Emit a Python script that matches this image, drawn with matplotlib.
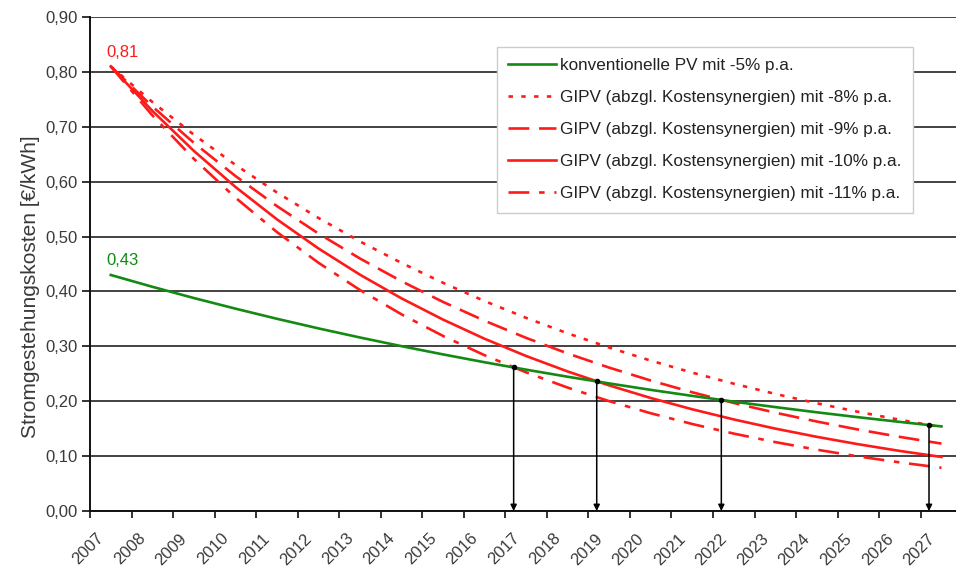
import matplotlib
matplotlib.use("Agg")
import matplotlib.pyplot as plt
from matplotlib.ticker import FixedLocator, FuncFormatter

plt.rcParams['font.family'] = ['Liberation Sans', 'DejaVu Sans']
plt.rcParams['lines.scale_dashes'] = False

years = list(range(2007, 2028))
year_labels = [str(y) for y in years]

pv_conv_5 = [0.430, 0.4085, 0.388, 0.3687, 0.3502, 0.3327, 0.3161, 0.3003, 0.2853, 0.2710,
             0.2575, 0.2446, 0.2324, 0.2207, 0.2097, 0.1992, 0.1893, 0.1798, 0.1708, 0.1623, 0.1541]
gipv_8 = [0.810, 0.7452, 0.6856, 0.6307, 0.5803, 0.5339, 0.4911, 0.4519, 0.4157, 0.3825,
          0.3519, 0.3237, 0.2978, 0.2740, 0.2521, 0.2319, 0.2133, 0.1963, 0.1806, 0.1661, 0.1528]
gipv_9 = [0.810, 0.7371, 0.6708, 0.6104, 0.5555, 0.5055, 0.4600, 0.4186, 0.3809, 0.3466,
          0.3154, 0.2870, 0.2612, 0.2377, 0.2163, 0.1968, 0.1791, 0.1630, 0.1483, 0.1350, 0.1228]
gipv_10 = [0.810, 0.729, 0.6561, 0.5905, 0.5314, 0.4783, 0.4305, 0.3874, 0.3487, 0.3138,
           0.2824, 0.2542, 0.2288, 0.2059, 0.1853, 0.1668, 0.1501, 0.1351, 0.1216, 0.1094, 0.0985]
gipv_11 = [0.810, 0.7209, 0.6416, 0.5710, 0.5082, 0.4523, 0.4026, 0.3583, 0.3189, 0.2838,
           0.2526, 0.2248, 0.2001, 0.1781, 0.1585, 0.1410, 0.1255, 0.1117, 0.0994, 0.0885, 0.0788]

labels = ["konventionelle PV mit -5% p.a.",
          "GIPV (abzgl. Kostensynergien) mit -8% p.a.",
          "GIPV (abzgl. Kostensynergien) mit -9% p.a.",
          "GIPV (abzgl. Kostensynergien) mit -10% p.a.",
          "GIPV (abzgl. Kostensynergien) mit -11% p.a."]

# intersection points (x in years, y in €/kWh)
cross_x = [2016.7, 2018.7, 2021.7, 2026.7]
cross_y = [0.262, 0.237, 0.203, 0.156]

start_labels = ["0,81", "0,43"]
start_values = [0.81, 0.43]

fig = plt.figure(figsize=(9.56, 5.68), dpi=100)
ax = fig.add_axes([90/956, 1 - 511/568, 1 - 90/956, (511 - 17)/568])

red = '#ff1a1a'
green = '#138a13'
lw = 1.9
ax.plot(years, pv_conv_5, color=green, lw=lw, label=labels[0], zorder=4)
ax.plot(years, gipv_8, color=red, lw=lw, ls=(0, (3.2, 6.0)), label=labels[1], zorder=3)
ax.plot(years, gipv_9, color=red, lw=lw, ls=(0, (15, 7)), label=labels[2], zorder=3)
ax.plot(years, gipv_10, color=red, lw=lw, label=labels[3], zorder=3)
ax.plot(years, gipv_11, color=red, lw=lw, ls=(0, (15, 7, 4, 7)), label=labels[4], zorder=3)

for x, y in zip(cross_x, cross_y):
    ax.annotate('', xy=(x, 0.0), xytext=(x, y),
                arrowprops=dict(arrowstyle='-|>', color='black', lw=1.1,
                                mutation_scale=9, shrinkA=0, shrinkB=0),
                zorder=5)
    ax.plot([x], [y], 'o', color='black', ms=3, zorder=6)

ax.text(years[0] - 0.1, start_values[0] + 0.026, start_labels[0], color=red,
        fontsize=12, ha='left', va='center')
ax.text(years[0] - 0.1, start_values[1] + 0.027, start_labels[1], color=green,
        fontsize=12, ha='left', va='center')

ax.set_xlim(2006.5, 2027.35)
ax.set_ylim(0, 0.9)
ax.set_yticks([i / 10 for i in range(10)])
ax.yaxis.set_major_formatter(FuncFormatter(lambda v, p: f"{v:.2f}".replace('.', ',')))
# category labels, anchored slightly left of the category centre (as in Excel)
ax.set_xticks([y - 0.22 for y in years])
ax.set_xticklabels(year_labels, rotation=45, ha='right', va='center',
                   rotation_mode='anchor')
ax.xaxis.set_minor_locator(FixedLocator([y - 0.5 for y in years]))
ax.tick_params(axis='x', which='major', length=0, pad=18, labelsize=12, labelcolor='#3a3a3a')
ax.tick_params(axis='x', which='minor', length=5, width=1.3, direction='out', color='#222222')
ax.tick_params(axis='y', which='major', length=6, width=1.3, direction='out', color='#222222',
               labelsize=12, labelcolor='#3a3a3a', pad=3)

ax.grid(axis='y', color='#222222', lw=1.2)
ax.set_axisbelow(True)
for s in ['top', 'right']:
    ax.spines[s].set_visible(False)
for s in ['left', 'bottom']:
    ax.spines[s].set_color('#111111')
    ax.spines[s].set_linewidth(1.4)

ax.set_ylabel("Stromgestehungskosten [€/kWh]", fontsize=15, color='#3a3a3a')
ax.yaxis.set_label_coords(-0.058, 0.455)

leg = ax.legend(loc='upper left', bbox_to_anchor=(497/956, 1 - 47/568),
                bbox_transform=fig.transFigure, borderaxespad=0, fontsize=12.3,
                frameon=True, fancybox=False, edgecolor='#cccccc', framealpha=1,
                handlelength=2.8, handletextpad=0.25, labelspacing=1.0, borderpad=0.65)
leg.get_frame().set_linewidth(1.0)
for t in leg.get_texts():
    t.set_color('#222222')

fig.savefig('out.png', dpi=100)
